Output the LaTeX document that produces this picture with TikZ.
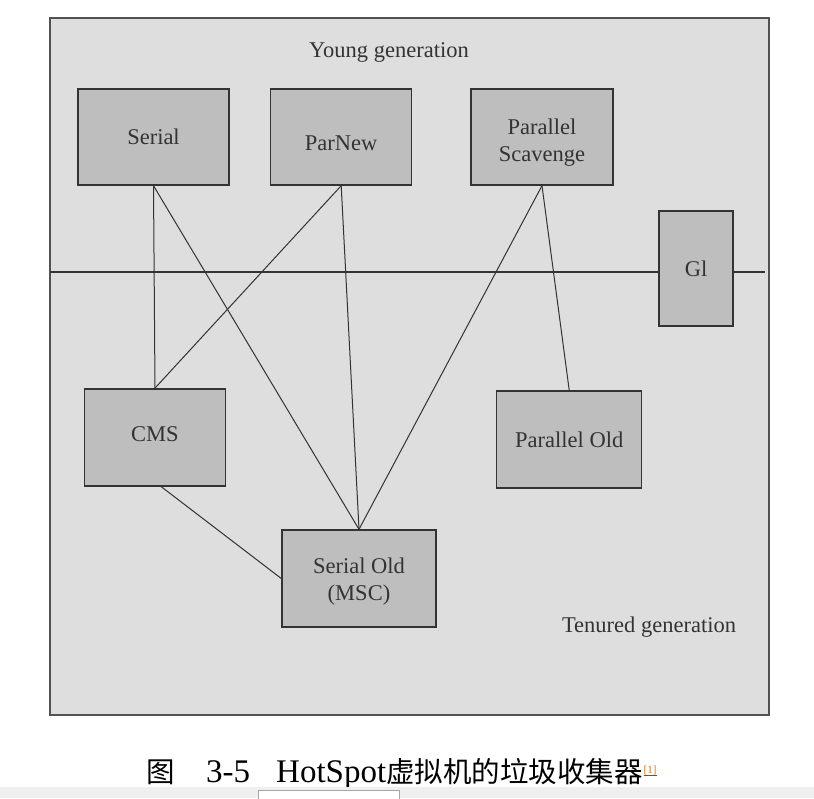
\documentclass[tikz,border=0pt]{standalone}
\usepackage{fontspec}
\setmainfont{Liberation Serif}
\newfontfamily\cjk{Noto Sans CJK SC}
\definecolor{heapgray}{HTML}{DEDEDE}
\definecolor{boxgray}{HTML}{BEBEBE}
\definecolor{inkgray}{HTML}{333333}
\definecolor{notecol}{HTML}{E8741E}
\definecolor{linkblue}{HTML}{3355CC}
\definecolor{barcol}{HTML}{EFEFEF}
\begin{document}
\begin{tikzpicture}[x=1pt,y=-1pt,
	gc/.style={draw=inkgray, fill=boxgray, line width=1.4pt, text=inkgray, align=center, inner sep=0pt,
		font=\fontsize{22.5}{27}\selectfont},
	genlabel/.style={text=inkgray, inner sep=0pt, anchor=base, font=\fontsize{22.5}{27}\selectfont},
	link/.style={draw=inkgray, line width=1pt}]
	\useasboundingbox (0,0) rectangle (814,798);
	\fill[white] (0,0) rectangle (814,798);
	
	% heap frame and generation divider
	\draw[fill=heapgray, draw=inkgray!85, line width=1.3pt] (50,18) rectangle (769,715);
	\coordinate (divL) at (50,272);
	\coordinate (divR) at (765,272);
	\draw[link, line width=1.2pt] (divL) -- (divR);
	\node[genlabel] (young) at (389,57) {Young generation};
	\node[genlabel] (tenured) at (649,632) {Tenured generation};
	
	% collectors
	\node[gc, minimum width=151, minimum height=96] (serial) at (153.5,137) {Serial};
	\node[gc, minimum width=141, minimum height=96] (parnew) at (341.2,137) {\rule{0pt}{27pt}ParNew};
	\node[gc, minimum width=142, minimum height=96] (pscav) at (542,137) {\rule{0pt}{26.5pt}Parallel\\Scavenge};
	\node[gc, minimum width=74, minimum height=115] (gone) at (696,268.5) {Gl};
	\node[gc, minimum width=141, minimum height=97] (cms) at (155,437.3) {CMS\rule[-6pt]{0pt}{6pt}};
	\node[gc, minimum width=145, minimum height=97] (pold) at (569.2,439.3) {Parallel Old};
	\node[gc, minimum width=154, minimum height=97] (sold) at (359,578.5) {\rule{0pt}{21.5pt}Serial Old\\(MSC)};
	
	% who works with whom
	\draw[link] (serial.south) -- (cms.north);
	\draw[link] (serial.south) -- (sold.north);
	\draw[link] (parnew.south) -- (cms.north);
	\draw[link] (parnew.south) -- (sold.north);
	\draw[link] (pscav.south) -- (sold.north);
	\draw[link] (pscav.south) -- (pold.north);
	\draw[link] ([xshift=6pt]cms.south) -- (sold.west);
	
	% caption
	\node[anchor=base west, inner sep=0pt, font=\cjk\fontsize{28.5}{28.5}\selectfont] (fig) at (146.5,782) {图};
	\node[anchor=base west, inner sep=0pt, font=\fontsize{33}{33}\selectfont] (fignum) at (206,782) {3-5};
	\node[anchor=base west, inner sep=0pt, font=\fontsize{33}{33}\selectfont] (figtitle) at (276,782)
		{HotSpot{\cjk\fontsize{28.5}{28.5}\selectfont 虚拟机的垃圾收集器}};
	\node[anchor=base west, inner sep=0pt, text=notecol, font=\fontsize{11}{11}\selectfont] (note) at (643.5,773) {[1]};
	\draw[linkblue, line width=0.8pt] ([yshift=-1pt]note.south west) -- ([yshift=-1pt]note.south east);
	
	% viewer toolbar at the bottom edge
	\fill[barcol] (0,787) rectangle (814,798);
	\draw[gray!70, fill=white] (258,790.5) rectangle (399,800);
\end{tikzpicture}
\end{document}
